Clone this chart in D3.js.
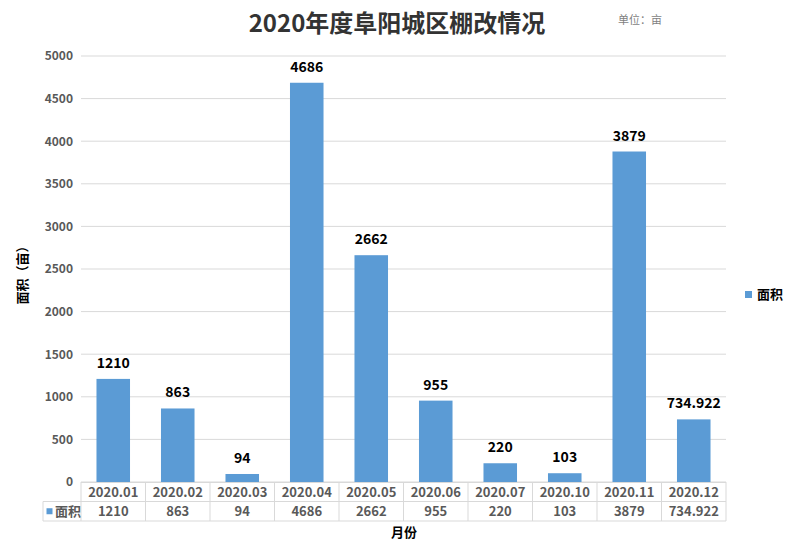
<!DOCTYPE html>
<html>
<head>
<meta charset="utf-8">
<script src="https://cdn.jsdelivr.net/npm/d3@7"></script>
<style>
  body { margin: 0; background: #fff; }
  text { font-family: "Microsoft YaHei", "Noto Sans CJK SC", sans-serif; }
</style>
</head>
<body>
<svg class="chart"></svg>
<script>
// chart data
var months = ["2020.01", "2020.02", "2020.03", "2020.04", "2020.05", "2020.06", "2020.07", "2020.10", "2020.11", "2020.12"];
var areas = [1210, 863, 94, 4686, 2662, 955, 220, 103, 3879, 734.922];
var yTicks = [0, 500, 1000, 1500, 2000, 2500, 3000, 3500, 4000, 4500, 5000];
var seriesName = "面积";

var W = 795, H = 548;
var margin = {top: 56, right: 69, bottom: 66, left: 81},
    width = W - margin.left - margin.right,
    height = H - margin.top - margin.bottom;

var barColor = "#5b9bd5", gridColor = "#d9d9d9", labelColor = "#595959";

var svg = d3.select(".chart")
    .attr("width", W)
    .attr("height", H);

var g = svg.append("g")
    .attr("transform", "translate(" + margin.left + "," + margin.top + ")");

var x = d3.scaleBand().domain(months).range([0, width]).paddingInner(0.48).paddingOuter(0.24);
var band = d3.scaleBand().domain(months).range([0, width]);
var y = d3.scaleLinear().domain([0, 5000]).range([height, 0]);

// gridlines
g.append("g")
    .selectAll("line")
    .data(yTicks)
  .enter().append("line")
    .attr("x1", 0).attr("x2", width)
    .attr("y1", function(d) { return y(d); })
    .attr("y2", function(d) { return y(d); })
    .attr("stroke", gridColor)
    .attr("stroke-width", 1);

// y axis labels
var yAxis = g.append("g")
    .call(d3.axisLeft(y).tickValues(yTicks).tickFormat(d3.format("d")).tickSize(0).tickPadding(8));
yAxis.select(".domain").remove();
yAxis.selectAll("text")
    .attr("fill", labelColor)
    .style("font-size", "12px")
    .style("font-weight", "bold");

// bars
g.selectAll(".bar")
    .data(areas)
  .enter().append("rect")
    .attr("class", "bar")
    .attr("x", function(d, i) { return x(months[i]); })
    .attr("y", function(d) { return y(d); })
    .attr("width", x.bandwidth())
    .attr("height", function(d) { return height - y(d); })
    .attr("fill", barColor);

// data labels
g.selectAll(".val")
    .data(areas)
  .enter().append("text")
    .attr("class", "val")
    .attr("x", function(d, i) { return x(months[i]) + x.bandwidth() / 2; })
    .attr("y", function(d) { return y(d) - 11; })
    .attr("text-anchor", "middle")
    .style("font-size", "14px")
    .style("font-weight", "bold")
    .attr("fill", "#000")
    .text(function(d) { return d; });

// data table under the plot
var rowH = 19.5;
var tableLeft = 43 - margin.left;
var table = g.append("g").attr("transform", "translate(0," + height + ")");

// horizontal lines
table.append("line")
    .attr("x1", 0).attr("x2", width).attr("y1", 0.5).attr("y2", 0.5)
    .attr("stroke", gridColor);
[rowH, rowH * 2].forEach(function(yy) {
  table.append("line")
    .attr("x1", tableLeft).attr("x2", width).attr("y1", yy).attr("y2", yy)
    .attr("stroke", gridColor);
});
// vertical lines
table.append("line")
    .attr("x1", tableLeft).attr("x2", tableLeft).attr("y1", rowH).attr("y2", rowH * 2)
    .attr("stroke", gridColor);
months.concat(["end"]).forEach(function(m, i) {
  var xx = i < months.length ? band(m) : width;
  table.append("line")
    .attr("x1", xx).attr("x2", xx).attr("y1", 0).attr("y2", rowH * 2)
    .attr("stroke", gridColor);
});

// category row
table.selectAll(".cat")
    .data(months)
  .enter().append("text")
    .attr("class", "cat")
    .attr("x", function(d) { return band(d) + band.bandwidth() / 2; })
    .attr("y", rowH / 2 + 5)
    .attr("text-anchor", "middle")
    .attr("fill", labelColor)
    .style("font-size", "13px")
    .style("font-weight", "bold")
    .text(function(d) { return d; });

// value row
table.selectAll(".cell")
    .data(areas)
  .enter().append("text")
    .attr("class", "cell")
    .attr("x", function(d, i) { return band(months[i]) + band.bandwidth() / 2; })
    .attr("y", rowH * 1.5 + 5)
    .attr("text-anchor", "middle")
    .attr("fill", labelColor)
    .style("font-size", "13px")
    .style("font-weight", "bold")
    .text(function(d) { return d; });

// legend key inside table
table.append("rect")
    .attr("x", tableLeft + 3.5).attr("y", rowH * 1.5 - 3)
    .attr("width", 6).attr("height", 6)
    .attr("fill", barColor);
table.append("text")
    .attr("x", tableLeft + 12).attr("y", rowH * 1.5 + 5)
    .attr("fill", labelColor)
    .style("font-size", "13px")
    .style("font-weight", "bold")
    .text(seriesName);

// legend on the right
svg.append("rect")
    .attr("x", 745).attr("y", 291)
    .attr("width", 7).attr("height", 7)
    .attr("fill", barColor);
svg.append("text")
    .attr("x", 757).attr("y", 299)
    .attr("fill", "#000")
    .style("font-size", "13px")
    .style("font-weight", "bold")
    .text(seriesName);

// title and unit
svg.append("text")
    .attr("x", 397).attr("y", 32)
    .attr("text-anchor", "middle")
    .attr("fill", "#333")
    .style("font-size", "24px")
    .style("font-weight", "bold")
    .text("2020年度阜阳城区棚改情况");
svg.append("text")
    .attr("x", 618).attr("y", 24)
    .attr("fill", "#7f7f7f")
    .style("font-size", "11px")
    .text("单位：亩");

// axis titles
svg.append("text")
    .attr("transform", "translate(27,272) rotate(-90)")
    .attr("text-anchor", "middle")
    .attr("fill", "#000")
    .style("font-size", "13px")
    .style("font-weight", "bold")
    .text("面积（亩）");
svg.append("text")
    .attr("x", 404).attr("y", 537)
    .attr("text-anchor", "middle")
    .attr("fill", "#000")
    .style("font-size", "13px")
    .style("font-weight", "bold")
    .text("月份");
</script>
</body>
</html>
